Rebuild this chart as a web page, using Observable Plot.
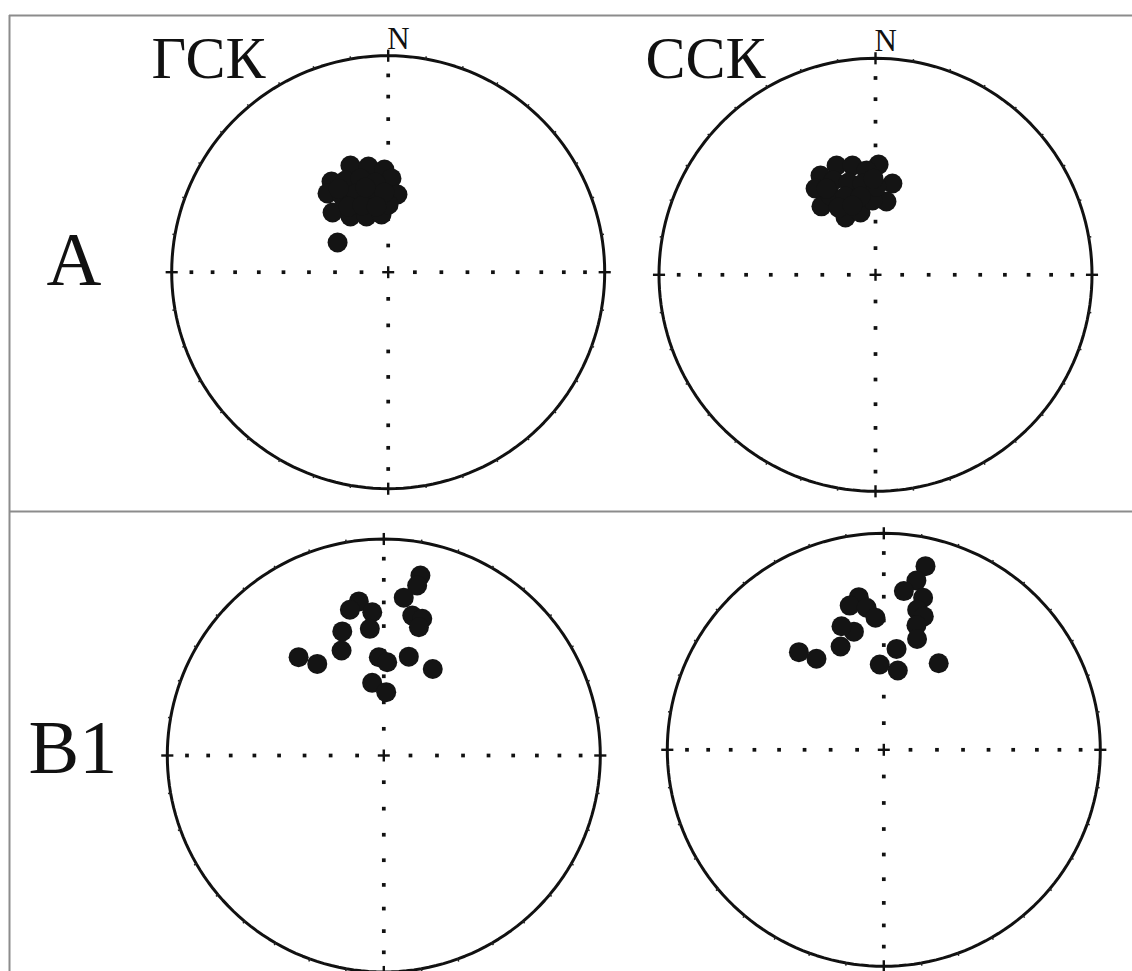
<!DOCTYPE html>
<html>
<head>
<meta charset="utf-8">
<script src="https://cdn.jsdelivr.net/npm/d3@7"></script>
<script src="https://cdn.jsdelivr.net/npm/@observablehq/plot@0.6"></script>
<style>
  html, body { margin: 0; padding: 0; background: #fff; overflow: hidden; }
</style>
</head>
<body>
<div id="chart"></div>
<script>
// Palaeomagnetic directions, declination / inclination in degrees (lower hemisphere).
// Site A, geographic coordinates (ГСК)
const decA_geo = [340.5, 349.4, 357.9, 2.0, 6.8, 328.0, 322.4, 317.0, 325.9, 338.7, 353.4, 0.3, 335.0,
                  343.5, 351.9, 328.9, 338.1, 346.8, 357.3, 328.9, 338.9, 349.9, 329.3, 345.0, 300.4];
const incA_geo = [46.6, 48.9, 50.8, 54.3, 60.4, 49.1, 52.1, 59.1, 64.6, 67.5, 68.1, 64.5, 51.4,
                  52.8, 55.6, 56.4, 57.8, 60.6, 59.8, 61.0, 63.0, 64.8, 53.0, 56.7, 67.9];
// Site A, stratigraphic coordinates (ССК)
const decA_strat = [340.4, 348.1, 1.6, 355.1, 10.5, 8.5, 331.0, 325.2, 321.7, 332.4, 346.5, 357.7,
                    336.0, 343.7, 351.9, 0.6, 330.4, 339.0, 349.2, 331.2, 341.6, 358.8, 330.4];
const incA_strat = [45.5, 47.2, 47.8, 50.0, 54.7, 62.0, 46.5, 49.9, 56.9, 65.6, 65.8, 61.9,
                    50.6, 53.4, 55.0, 56.5, 55.3, 58.2, 59.8, 61.0, 62.4, 53.4, 52.2];
// Site B1, geographic coordinates (ГСК)
const decB1_geo = [11.5, 11.1, 7.2, 350.8, 346.9, 355.4, 11.5, 15.7, 15.3, 353.7, 341.5, 338.1,
                   319.1, 324.0, 357.1, 2.1, 14.2, 29.5, 350.9, 2.2];
const incB1_geo = [16.3, 21.1, 27.4, 28.7, 31.5, 34.0, 34.4, 34.7, 38.5, 40.8, 39.4, 46.6,
                   39.7, 46.6, 52.5, 54.5, 51.1, 52.1, 62.2, 66.1];
// Site B1, stratigraphic coordinates (ССК)
const decB1_strat = [12.8, 10.9, 7.2, 14.5, 350.7, 346.7, 353.1, 356.4, 13.4, 16.7, 14.7, 16.7,
                     345.8, 341.1, 337.3, 319.0, 323.5, 7.2, 357.3, 10.0, 32.4];
const incB1_strat = [14.1, 21.5, 27.0, 28.3, 29.3, 32.1, 34.3, 38.8, 33.9, 35.9, 40.3, 45.6,
                     43.1, 39.5, 47.1, 40.0, 46.6, 51.2, 57.6, 59.5, 50.9];

const sites = ["A", "B1"];
const systems = ["ГСК", "ССК"];
const northLabel = "N";
const axisIncs = [10, 20, 30, 40, 50, 60, 70, 80];   // inclination marks along the cross
const rimTicks = d3.range(0, 360, 10);                // declination ticks on the primitive

// Page layout of the four nets (pixel centres, common radius)
const W = 1132, H = 971, R = 216.5;
const nets = [
  {site: "A",  system: "ГСК", cx: 387.7, cy: 271.7, dec: decA_geo,    inc: incA_geo,    north: true},
  {site: "A",  system: "ССК", cx: 875.0, cy: 274.3, dec: decA_strat,  inc: incA_strat,  north: true},
  {site: "B1", system: "ГСК", cx: 383.3, cy: 755.0, dec: decB1_geo,   inc: incB1_geo,   north: false},
  {site: "B1", system: "ССК", cx: 883.3, cy: 749.3, dec: decB1_strat, inc: incB1_strat, north: false}
];

// Equal-area (Schmidt) projection of a direction onto the unit net
const rad = Math.PI / 180;
function eqArea(dec, inc) {
  const r = Math.SQRT2 * Math.sin((90 - inc) * rad / 2);
  return [r * Math.sin(dec * rad), r * Math.cos(dec * rad)];
}
const toPage = (n, u, v) => [n.cx + R * u, n.cy - R * v];

const points = [], rim = [], ticks = [], crossDots = [], centre = [], norths = [];
nets.forEach((n, k) => {
  n.dec.forEach((d, i) => {
    const [x, y] = toPage(n, ...eqArea(d, n.inc[i]));
    points.push({x, y, dec: d, inc: n.inc[i], site: n.site, system: n.system});
  });
  d3.range(0, 361, 2).forEach(a => {
    const [x, y] = toPage(n, Math.sin(a * rad), Math.cos(a * rad));
    rim.push({x, y, net: k});
  });
  rimTicks.forEach(a => {
    const card = a % 90 === 0;
    const r1 = card ? 0.972 : 0.996, r2 = card ? 1.028 : 1.012;
    const [x1, y1] = toPage(n, r1 * Math.sin(a * rad), r1 * Math.cos(a * rad));
    const [x2, y2] = toPage(n, r2 * Math.sin(a * rad), r2 * Math.cos(a * rad));
    ticks.push({x1, y1, x2, y2, card});
  });
  [0, 90, 180, 270].forEach(d => axisIncs.forEach(i => {
    const [x, y] = toPage(n, ...eqArea(d, i));
    crossDots.push({x, y});
  }));
  const c = 6;
  centre.push({x1: n.cx - c, y1: n.cy, x2: n.cx + c, y2: n.cy});
  centre.push({x1: n.cx, y1: n.cy - c, x2: n.cx, y2: n.cy + c});
  if (n.north) norths.push({x: n.cx - 1, y: n.cy - R - 7, text: northLabel});
});

const serif = "Liberation Serif, Times New Roman, serif";
const systemLabels = [
  {x: 151, y: 77, text: systems[0]},
  {x: 645, y: 77, text: systems[1]}
];
const siteLabels = [
  {x: 46, y: 284, text: sites[0]},
  {x: 28, y: 772, text: sites[1]}
];

const chart = Plot.plot({
  width: W,
  height: H,
  margin: 0,
  x: {domain: [0, W], range: [0, W], axis: null},
  y: {domain: [0, H], range: [0, H], axis: null},
  marks: [
    // panel frame
    Plot.ruleX([9], {y1: 15, y2: H, stroke: "#8c8c8c", strokeWidth: 2}),
    Plot.ruleY([15, 511], {x1: 9, x2: W, stroke: "#8c8c8c", strokeWidth: 2}),
    // primitive circle and declination ticks
    Plot.line(rim, {x: "x", y: "y", z: "net", stroke: "#111", strokeWidth: 3}),
    Plot.link(ticks.filter(t => !t.card), {x1: "x1", y1: "y1", x2: "x2", y2: "y2", stroke: "#222", strokeWidth: 1.5}),
    Plot.link(ticks.filter(t => t.card), {x1: "x1", y1: "y1", x2: "x2", y2: "y2", stroke: "#111", strokeWidth: 2.4}),
    // dotted N–S / E–W cross with 10° inclination marks
    Plot.dot(crossDots, {x: "x", y: "y", symbol: "square", r: 2.1, fill: "#111", stroke: "none"}),
    Plot.link(centre, {x1: "x1", y1: "y1", x2: "x2", y2: "y2", stroke: "#111", strokeWidth: 2.4}),
    // directions
    Plot.dot(points, {x: "x", y: "y", r: 10, fill: "#141414", stroke: "none"}),
    // labels
    Plot.text(norths, {x: "x", y: "y", text: "text", fontFamily: serif, fontSize: 31,
                       textAnchor: "start", lineAnchor: "bottom", fill: "#111"}),
    Plot.text(systemLabels, {x: "x", y: "y", text: "text", fontFamily: serif, fontSize: 60,
                             textAnchor: "start", lineAnchor: "bottom", fill: "#111"}),
    Plot.text(siteLabels, {x: "x", y: "y", text: "text", fontFamily: serif, fontSize: 76,
                           textAnchor: "start", lineAnchor: "bottom", fill: "#111"})
  ]
});
document.getElementById("chart").appendChild(chart);
</script>
</body>
</html>
